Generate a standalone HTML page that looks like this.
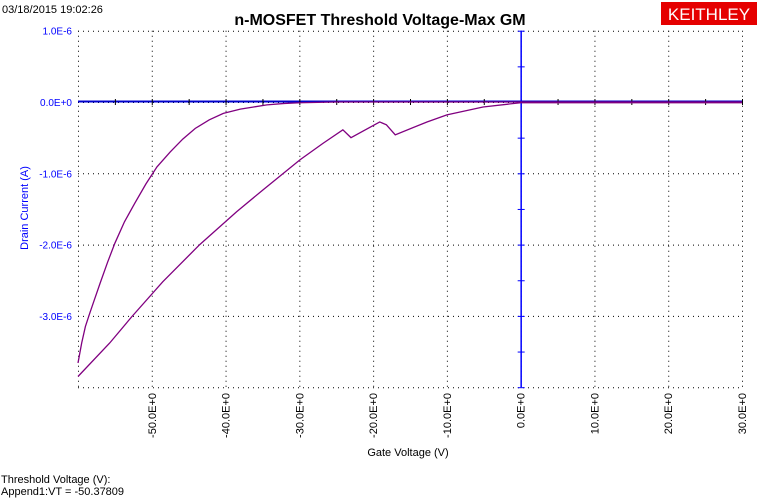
<!DOCTYPE html>
<html><head><meta charset="utf-8"><style>
body{margin:0;background:#fff;width:761px;height:498px;overflow:hidden}
svg{display:block;font-family:"Liberation Sans",sans-serif}
</style></head><body>
<svg id="c" width="761" height="498">
<text x="2" y="13" font-size="11">03/18/2015 19:02:26</text>
<text x="380" y="25" font-size="16" font-weight="bold" text-anchor="middle">n-MOSFET Threshold Voltage-Max GM</text>
<g><rect x="661" y="2" width="96" height="23" fill="#e50000"/><text x="709" y="20" font-size="17" fill="#fff" text-anchor="middle">KEITHLEY</text></g>
<g id="grid"></g>
<g id="axes"></g>
<g id="series"></g>
<text x="408" y="456" font-size="11" text-anchor="middle">Gate Voltage (V)</text>
<text transform="translate(28,208) rotate(-90)" font-size="11" fill="#0000ff" text-anchor="middle">Drain Current (A)</text>
<text x="1" y="483" font-size="11">Threshold Voltage (V):</text>
<text x="1" y="495" font-size="11">Append1:VT = -50.37809</text>
</svg>
<script>
const xTicks=[-50,-40,-30,-20,-10,0,10,20,30];
const xTickLabels=["-50.0E+0","-40.0E+0","-30.0E+0","-20.0E+0","-10.0E+0","0.0E+0","10.0E+0","20.0E+0","30.0E+0"];
const yTicks=[1,0,-1,-2,-3];
const yTickLabels=["1.0E-6","0.0E+0","-1.0E-6","-2.0E-6","-3.0E-6"];
const fwdV=[-60,-59.5,-59,-58.4,-57.7,-57,-56,-55,-53.7,-52.3,-50.8,-49.3,-47.5,-45.8,-44.1,-42.2,-40.3,-38,-36.2,-34.4,-32,-29.9,-25,-20,0,30];
const fwdI=[-3.66,-3.38,-3.15,-2.96,-2.75,-2.54,-2.25,-1.98,-1.68,-1.42,-1.15,-0.91,-0.70,-0.52,-0.37,-0.25,-0.16,-0.10,-0.07,-0.04,-0.02,-0.01,0,0,0,0];
const revV=[-60,-55.7,-52.7,-48.5,-43.5,-38.5,-34.9,-29.9,-26.8,-24.1,-23.0,-19.1,-18.2,-17.0,-12.7,-10.0,-5.1,0,30];
const revI=[-3.85,-3.38,-3.01,-2.52,-2.0,-1.54,-1.23,-0.81,-0.58,-0.39,-0.50,-0.28,-0.32,-0.46,-0.28,-0.18,-0.07,-0.01,-0.01];
const X=v=>78+(v+60)*(664/90);
const Y=i=>102-i*71.3;
const NS="http://www.w3.org/2000/svg";
function mk(p,t,a){const e=document.createElementNS(NS,t);for(const k in a)e.setAttribute(k,a[k]);p.appendChild(e);return e;}
const g=document.getElementById('grid'),ax=document.getElementById('axes'),s=document.getElementById('series');
const dot={stroke:"#000","stroke-width":1,"stroke-dasharray":"1 4",fill:"none"};
[-60].concat(xTicks).forEach(v=>{const l=mk(g,'line',Object.assign({x1:X(v)+.5,x2:X(v)+.5,y1:Y(1),y2:Y(-4)},dot));

});
yTicks.concat([-4]).forEach(i=>{const l=mk(g,'line',Object.assign({x1:X(-60),x2:X(30),y1:Y(i)+.5,y2:Y(i)+.5},dot));

});
xTicks.forEach((v,k)=>{const t=mk(ax,'text',{transform:`translate(${X(v)+4},393) rotate(-90)`,"font-size":11,"text-anchor":"end"});t.textContent=xTickLabels[k];

});
yTicks.forEach((i,k)=>{const t=mk(ax,'text',{x:72,y:Y(i)+4,"font-size":10,fill:"#0000ff","text-anchor":"end"});t.textContent=yTickLabels[k];

});
const hz=mk(ax,'line',{x1:X(-60),x2:X(30),y1:Y(0)-.5,y2:Y(0)-.5,stroke:"#0000cc","stroke-width":2});


for(let v=-55;v<=30;v+=5){const t=mk(ax,'line',{x1:X(v)+.5,x2:X(v)+.5,y1:Y(0)-3,y2:Y(0)+3,stroke:"#000"});

}
const vz=mk(ax,'line',{x1:X(0)+.5,x2:X(0)+.5,y1:Y(1),y2:Y(-4),stroke:"#0000ff","stroke-width":1.5});


for(let i=1;i>=-4;i-=0.5){const t=mk(ax,'line',{x1:X(0)-3,x2:X(0)+4,y1:Y(i)+.5,y2:Y(i)+.5,stroke:"#0000ff"});

}
function line(V,I,name){const p=mk(s,'polyline',{points:V.map((v,k)=>X(v)+','+Y(I[k])).join(' '),fill:"none",stroke:"#800080","stroke-width":1.3});

}
line(fwdV,fwdI,'forward-sweep-line');
line(revV,revI,'reverse-sweep-line');
</script>
</body></html>
